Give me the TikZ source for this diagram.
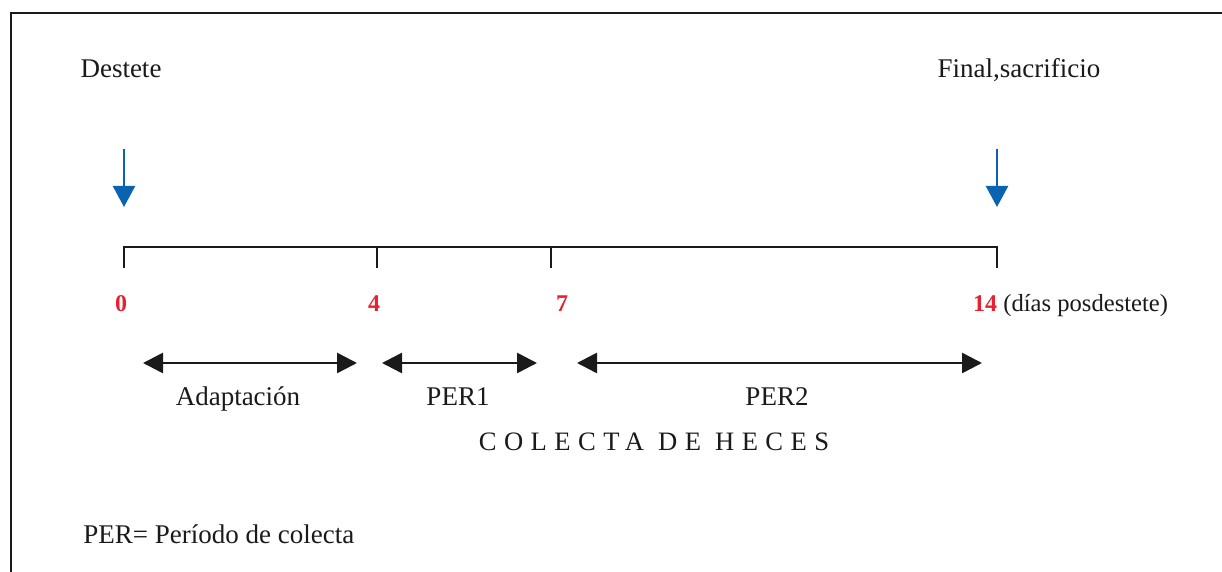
\documentclass[tikz,border=0pt]{standalone}
\usepackage{fontspec}
\setmainfont{Liberation Serif}
\usetikzlibrary{arrows.meta}
\definecolor{arrblue}{HTML}{0A63B0}
\definecolor{numred}{HTML}{E52330}
\definecolor{ink}{HTML}{1A1A1A}
\begin{document}
\begin{tikzpicture}[x=0.5pt,y=-0.5pt,
  lbl/.style={font=\fontsize{13.5}{16}\selectfont, text=ink, inner sep=0pt, anchor=base},
  num/.style={font=\fontsize{12}{14}\selectfont\bfseries, text=numred, inner sep=0pt, anchor=base},
  downarrow/.style={draw=arrblue, line width=1.2pt, -{Triangle[length=10.5pt,width=11pt]}},
  spanarrow/.style={draw=ink, line width=1.3pt, {Triangle[length=10pt,width=10pt]}-{Triangle[length=10pt,width=10pt]}},
  axis/.style={draw=ink, line width=1pt},
  frame/.style={draw=ink, line width=1pt}]
\useasboundingbox (0,0) rectangle (1222,572);
\fill[white] (0,0) rectangle (1222,572);
% frame (cropped on right and bottom)
\draw[frame] (11,572) -- (11,13) -- (1222,13);
% top labels
\node[lbl] (destete) at (121,78) {Destete};
\node[lbl] (final) at (1019,78) {Final,sacrificio};
% blue arrows
\coordinate (b0top) at (124,149);
\coordinate (b0tip) at (124,207);
\coordinate (b14top) at (997,149);
\coordinate (b14tip) at (997,207);
\draw[downarrow] (b0top) -- (b0tip);
\draw[downarrow] (b14top) -- (b14tip);
% timeline
\coordinate (t0) at (124,247);
\coordinate (t4) at (377,247);
\coordinate (t7) at (551,247);
\coordinate (t14) at (997,247);
\coordinate (t0b) at (124,268);
\coordinate (t4b) at (377,268);
\coordinate (t7b) at (551,268);
\coordinate (t14b) at (997,268);
\draw[axis] (t0b) -- (t0) -- (t14) -- (t14b);
\draw[axis] (t4) -- (t4b);
\draw[axis] (t7) -- (t7b);
% numbers
\node[num] (n0) at (121,312) {0};
\node[num] (n4) at (374,312) {4};
\node[num] (n7) at (562,312) {7};
\node[num] (n14) at (985,312) {14};
\node[font=\fontsize{12.3}{14}\selectfont, text=ink, inner sep=0pt, anchor=base west] (dias) at (1003,312) {(días posdestete)};
% span arrows
\coordinate (a1) at (143,363);
\coordinate (a2) at (357,363);
\coordinate (p1a) at (382,363);
\coordinate (p1b) at (537,363);
\coordinate (p2a) at (577,363);
\coordinate (p2b) at (982,363);
\draw[spanarrow] (a1) -- (a2);
\draw[spanarrow] (p1a) -- (p1b);
\draw[spanarrow] (p2a) -- (p2b);
% span labels
\node[lbl] (adap) at (238,406) {Adaptación};
\node[lbl] (per1) at (458,406) {PER1};
\node[lbl] (per2) at (777,406) {PER2};
\node[font=\fontsize{13.3}{16}\selectfont\addfontfeature{LetterSpace=28}, text=ink, inner sep=0pt, anchor=base] (colecta) at (654,451) {COLECTA DE HECES};
% legend
\node[lbl, anchor=base west] (legend) at (83,543) {PER= Período de colecta};
\end{tikzpicture}
\end{document}
